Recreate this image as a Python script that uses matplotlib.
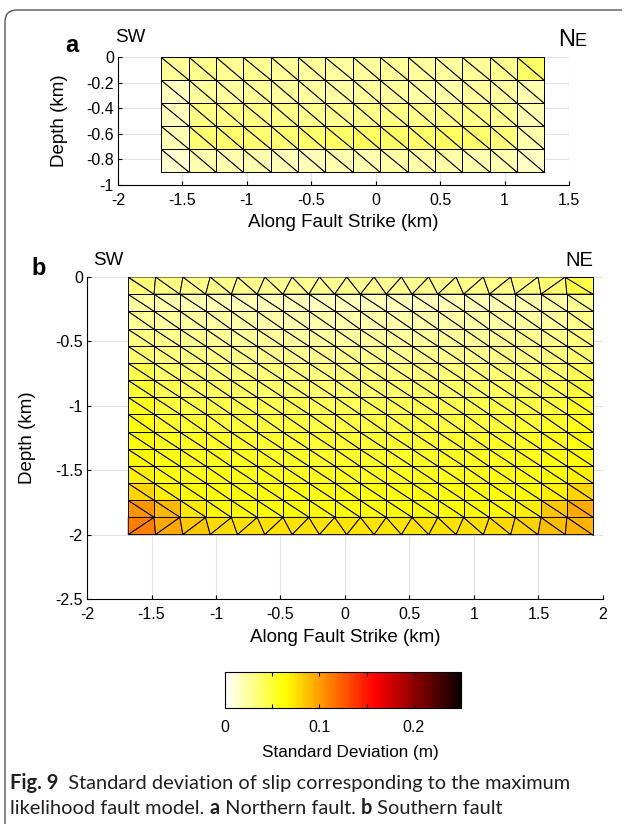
import numpy as np
import matplotlib
matplotlib.use("Agg")
import matplotlib.pyplot as plt
import matplotlib.tri as mtri
from matplotlib.path import Path
from matplotlib.patches import PathPatch

plt.rcParams['font.family'] = ['Liberation Sans', 'DejaVu Sans']
plt.rcParams['axes.unicode_minus'] = False

W, H = 624, 824

# standard deviation of slip per fault patch, in mm (rows top -> bottom)
north_std = [
    [27, 29, 28, 28, 26, 25, 24, 25, 26, 25, 24, 26, 29, 39],
    [16, 25, 25, 27, 25, 24, 23, 25, 25, 23, 22, 25, 24, 20],
    [17, 31, 32, 31, 31, 29, 29, 30, 31, 30, 30, 31, 28, 19],
    [19, 36, 37, 36, 36, 38, 39, 40, 39, 38, 40, 38, 34, 21],
    [12, 20, 20, 20, 18, 18, 20, 20, 22, 22, 22, 20, 20, 15],
]
south_std = [
    [34, 32, 30, 30, 29, 28, 28, 28, 28, 28, 28, 28, 29, 30, 30, 32, 36, 46],
    [24, 21, 20, 19, 18, 18, 17, 17, 17, 17, 17, 17, 18, 18, 19, 20, 22, 28],
    [27, 25, 24, 23, 22, 22, 21, 21, 21, 21, 21, 21, 22, 22, 23, 24, 25, 30],
    [32, 29, 28, 27, 26, 26, 25, 25, 25, 25, 25, 25, 26, 26, 27, 28, 29, 33],
    [37, 33, 32, 31, 30, 30, 29, 29, 29, 29, 29, 29, 30, 30, 31, 32, 33, 37],
    [44, 38, 36, 35, 34, 34, 33, 33, 33, 33, 33, 33, 34, 34, 35, 36, 38, 42],
    [50, 43, 41, 40, 39, 38, 38, 37, 37, 37, 37, 38, 38, 39, 40, 41, 43, 48],
    [56, 48, 46, 45, 44, 43, 43, 42, 42, 42, 42, 43, 43, 44, 45, 46, 48, 54],
    [60, 52, 50, 49, 48, 47, 47, 46, 46, 46, 46, 47, 47, 48, 49, 50, 53, 58],
    [63, 56, 54, 53, 52, 51, 50, 50, 50, 50, 50, 50, 51, 52, 53, 54, 57, 62],
    [66, 59, 57, 56, 55, 54, 53, 53, 53, 53, 53, 53, 54, 55, 56, 57, 60, 65],
    [70, 63, 60, 59, 58, 57, 56, 56, 56, 56, 56, 56, 57, 58, 59, 60, 64, 70],
    [80, 70, 64, 62, 61, 60, 60, 59, 59, 59, 59, 60, 60, 61, 62, 64, 70, 80],
    [104, 90, 72, 66, 64, 63, 63, 62, 62, 62, 62, 63, 63, 64, 66, 70, 84, 96],
    [112, 96, 84, 78, 76, 75, 75, 74, 74, 74, 74, 75, 75, 76, 78, 80, 88, 92],
]

# fault geometry (km)
north_x = (-1.663, 1.308)
north_depth = 0.9
south_x = (-1.68, 1.92)
south_depth = 2.0

xticks_a = [-2, -1.5, -1, -0.5, 0, 0.5, 1, 1.5]
xlabels_a = ['-2', '-1.5', '-1', '-0.5', '0', '0.5', '1', '1.5']
yticks_a = [0, -0.2, -0.4, -0.6, -0.8, -1]
ylabels_a = ['0', '-0.2', '-0.4', '-0.6', '-0.8', '-1']
xticks_b = [-2, -1.5, -1, -0.5, 0, 0.5, 1, 1.5, 2]
xlabels_b = ['-2', '-1.5', '-1', '-0.5', '0', '0.5', '1', '1.5', '2']
yticks_b = [0, -0.5, -1, -1.5, -2, -2.5]
ylabels_b = ['0', '-0.5', '-1', '-1.5', '-2', '-2.5']
cbar_ticks = [0, 0.05, 0.1, 0.15, 0.2]
cbar_labels = ['0', '', '0.1', '', '0.2']


def zip_rows(up, lo, xs):
    # triangulate the strip between two rows of nodes
    i = j = 0
    tris = []
    while i < len(up) - 1 or j < len(lo) - 1:
        adv_lo = i == len(up) - 1 or (j < len(lo) - 1 and xs[lo[j + 1]] <= xs[up[i + 1]] + 1e-9)
        if adv_lo:
            tris.append((up[i], lo[j], lo[j + 1]))
            j += 1
        else:
            tris.append((up[i], up[i + 1], lo[j]))
            i += 1
    return tris


def build_mesh(xr, depth, ncol, nrow, irregular_edges):
    x0, x1 = xr
    xs, zs, rows = [], [], []
    for r in range(nrow + 1):
        n = ncol + 1
        if irregular_edges and r in (0, nrow):
            n = ncol
        row_x = np.linspace(x0, x1, n)
        z = -depth * r / nrow
        idx = list(range(len(xs), len(xs) + n))
        xs.extend(row_x)
        zs.extend([z] * n)
        rows.append(idx)
    xs, zs = np.array(xs), np.array(zs)
    tris = []
    for r in range(nrow):
        tris += zip_rows(rows[r], rows[r + 1], xs)
    return xs, zs, np.array(tris)


def draw_fault(ax, std, xr, depth, irregular):
    vals = np.array(std) / 1000.0
    nrow, ncol = vals.shape
    xs, zs, tris = build_mesh(xr, depth, ncol, nrow, irregular)
    tri = mtri.Triangulation(xs, zs, tris)
    cx = xs[tris].mean(axis=1)
    cz = zs[tris].mean(axis=1)
    ci = np.clip(((cx - xr[0]) / (xr[1] - xr[0]) * ncol).astype(int), 0, ncol - 1)
    ri = np.clip((-cz / depth * nrow).astype(int), 0, nrow - 1)
    fc = vals[ri, ci]
    return ax.tripcolor(tri, facecolors=fc, cmap='hot_r', vmin=0, vmax=0.25,
                        edgecolors='k', linewidth=0.7)


def style_axes(ax):
    ax.grid(True, color='#e3e3e3', linewidth=0.8)
    ax.set_axisbelow(True)
    for s in ['top', 'right']:
        ax.spines[s].set_visible(False)
    for s in ['left', 'bottom']:
        ax.spines[s].set_linewidth(0.8)
    ax.tick_params(direction='in', length=3, labelsize=11.5, width=0.8)
    ax.tick_params(axis='x', pad=6)
    ax.tick_params(axis='y', pad=3)


def px_axes(x0, y0, x1, y1):
    return fig.add_axes([x0 / W, 1 - y1 / H, (x1 - x0) / W, (y1 - y0) / H])


fig = plt.figure(figsize=(W / 100, H / 100), dpi=100)

# panel a
ax1 = px_axes(118, 57, 569, 185)
draw_fault(ax1, north_std, north_x, north_depth, False)
ax1.set_xlim(-2, 1.5)
ax1.set_ylim(-1, 0)
ax1.set_xticks(xticks_a, labels=xlabels_a)
ax1.set_yticks(yticks_a, labels=ylabels_a)
style_axes(ax1)
ax1.set_xlabel('Along Fault Strike (km)', fontsize=13.5, labelpad=4)
ax1.set_ylabel('Depth (km)', fontsize=13.5, labelpad=13)

# panel b
ax2 = px_axes(87, 277, 603, 599)
im = draw_fault(ax2, south_std, south_x, south_depth, True)
ax2.set_xlim(-2, 2)
ax2.set_ylim(-2.5, 0)
ax2.set_xticks(xticks_b, labels=xlabels_b)
ax2.set_yticks(yticks_b, labels=ylabels_b)
style_axes(ax2)
ax2.set_xlabel('Along Fault Strike (km)', fontsize=13.5, labelpad=5)
ax2.set_ylabel('Depth (km)', fontsize=13.5, labelpad=14)


def ftext(x, y, s, **kw):
    return fig.text(x / W, 1 - y / H, s, **kw)


fig.canvas.draw()
rend = fig.canvas.get_renderer()

ftext(72, 46, 'a', fontsize=17, fontweight='bold', ha='center', va='center')
ftext(115, 38, 'SW', fontsize=13.5, ha='left', va='center')
n_txt = ftext(558, 46, 'N', fontsize=17, ha='left', va='baseline')
ftext(558 + n_txt.get_window_extent(rend).width, 46, 'E', fontsize=13, ha='left', va='baseline')
ftext(39, 268, 'b', fontsize=17, fontweight='bold', ha='center', va='center')
ftext(93, 260, 'SW', fontsize=13.5, ha='left', va='center')
ftext(593, 261, 'NE', fontsize=14.5, ha='right', va='center')

# colour bar
cax = px_axes(225, 672, 461, 708)
cb = fig.colorbar(im, cax=cax, orientation='horizontal')
cb.set_ticks(cbar_ticks, labels=cbar_labels)
cax.set_xlim(0, 0.25)
cax.tick_params(direction='in', length=3, labelsize=11.5, top=True, bottom=True, pad=9)
cb.outline.set_linewidth(0.8)
ftext(350, 752, 'Standard Deviation (m)', fontsize=12.3, ha='center', va='center')

# caption
cap_font = dict(family=['Lato', 'DejaVu Sans'], fontsize=14.4, color='#231f20')


def caption_line(x, y, parts):
    for s, bold in parts:
        t = ftext(x, y, s, fontweight='bold' if bold else 'normal',
                  ha='left', va='baseline', **cap_font)
        x += t.get_window_extent(rend).width


caption_line(10, 789, [('Fig. 9', True),
                       ('  Standard deviation of slip corresponding to the maximum', False)])
caption_line(10, 814, [('likelihood fault model. ', False), ('a', True),
                       (' Northern fault. ', False), ('b', True), (' Southern fault', False)])

# frame around the figure
pts = [(5, 824), (5, 22), (5, 10), (17, 10), (622, 10)]
verts = [(px / W, 1 - py / H) for px, py in pts]
codes = [Path.MOVETO, Path.LINETO, Path.CURVE3, Path.CURVE3, Path.LINETO]
fig.patches.append(PathPatch(Path(verts, codes), transform=fig.transFigure,
                             fill=False, edgecolor='#555555', linewidth=1.0))

fig.savefig('out.png', dpi=100)
